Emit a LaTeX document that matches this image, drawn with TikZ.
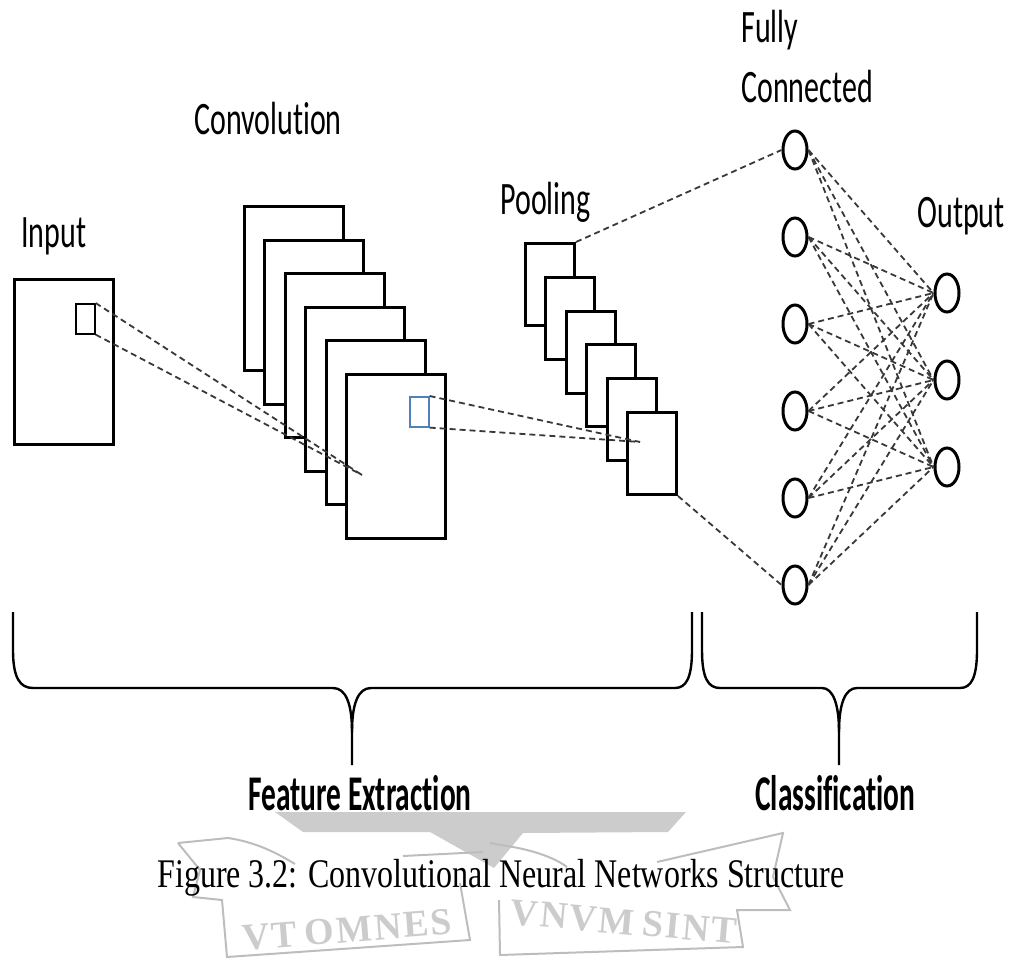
\documentclass[tikz,border=0pt]{standalone}
\usepackage{fontspec}
\usepackage{graphicx}
\setmainfont{Liberation Serif}
\newfontfamily\carlito[Ligatures=NoCommon]{Carlito}
\usetikzlibrary{shapes.geometric}
\newcommand{\stlbl}[1]{{\carlito\fontsize{15}{19.4}\selectfont\scalebox{1}[1.55]{\begin{tabular}[b]{@{}l@{}}#1\end{tabular}}}}
\newcommand{\stbold}[1]{{\carlito\bfseries\fontsize{14.7}{17}\selectfont\scalebox{1}[1.7]{#1}}}
\definecolor{wmgray}{gray}{0.80}
\definecolor{wmline}{gray}{0.74}
\definecolor{boxblue}{RGB}{79,129,189}
\tikzset{
  fmap/.style={draw=black, line width=1.5pt, fill=white, anchor=north west, inner sep=0pt},
  win/.style={line width=0.8pt, anchor=north west, inner sep=0pt, minimum width=9.5pt, minimum height=15pt},
  neuron/.style={draw=black, line width=1.5pt, ellipse, fill=white, minimum width=12pt, minimum height=19pt, inner sep=0pt},
  conn/.style={draw=black!78, line width=0.9pt, dash pattern=on 3pt off 2pt},
  lbl/.style={inner sep=0pt, anchor=base west},
  brace/.style={draw=black, line width=1.2pt},
  wm/.style={draw=wmline, line width=1pt},
  wmtext/.style={text=wmgray, inner sep=0pt, font=\fontsize{19}{22}\selectfont\bfseries},
}
\begin{document}
\begin{tikzpicture}[x=0.5pt, y=-0.5pt]
\useasboundingbox (0,0) rectangle (1012,962);
% ---------- watermark ----------
\fill[wmgray] (275,812) -- (686,812) -- (668,832) -- (523,833) -- (494,868) -- (430,832) -- (303,832) -- cycle;
\draw[wm] (178,843) -- (228,838) .. controls (255,842) and (275,852) .. (295,864);
\draw[wm] (178,843) -- (200,870) -- (193,897) -- (222,900) -- (227,957) -- (470,940) -- (460,883);
\draw[wm] (403,856) -- (483,852);
\draw[wm] (490,843) -- (513,847) .. controls (535,851) and (555,858) .. (567,867);
\draw[wm] (499,900) -- (500,955) -- (743,947) -- (737,910) -- (790,910) -- (773,877) -- (783,833) -- (657,862);
\node[wmtext, rotate=4.5] (wm1) at (347,930) {V\kern1ptT\kern4pt O\kern1ptM\kern1ptN\kern1ptE\kern1ptS};
\node[wmtext, rotate=-5] (wm2) at (624,922) {V\kern1ptN\kern1ptV\kern1ptM\kern4pt S\kern1ptI\kern1ptN\kern1ptT};
% ---------- input ----------
\node[fmap, minimum width=49.5pt, minimum height=82.5pt] (in) at (13,278) {};
\node[win, draw=black] (w1) at (75,303) {};
% ---------- convolution ----------
\foreach \i in {1,...,6}
  \node[fmap, minimum width=49.5pt, minimum height=82pt] (c\i) at ({243+20.4*(\i-1)},{205+33.6*(\i-1)}) {};
\node[win, draw=boxblue] (w2) at (409,396) {};
% ---------- pooling ----------
\foreach \i in {1,...,6}
  \node[fmap, minimum width=24.5pt, minimum height=41pt] (p\i) at ({524+20.4*(\i-1)},{242+33.8*(\i-1)}) {};
% ---------- neurons ----------
\foreach \i/\y in {1/150,2/237,3/324,4/411,5/498,6/585}
  \node[neuron] (f\i) at (795,\y) {};
\foreach \i/\y in {1/293,2/380,3/467}
  \node[neuron] (o\i) at (947,\y) {};
% ---------- connectors ----------
\coordinate (cend) at (362,475);
\coordinate (pend) at (640,442);
\draw[conn] (w1.north east) -- (cend);
\draw[conn] (w1.south east) -- (cend);
\draw[conn] (w2.north east) -- (pend);
\draw[conn] (w2.south east) -- (pend);
\draw[conn] (p1.north east) -- (f1.west);
\draw[conn] (p6.south east) -- (f6.west);
\foreach \i in {1,...,6}
  \foreach \j in {1,2,3}
    \draw[conn] (f\i.east) -- (o\j.west);
% ---------- labels ----------
\node[lbl] (linput) at (21,248) {\stlbl{Input}};
\node[lbl] (lconv) at (194,135) {\stlbl{Convolution}};
\node[lbl] (lpool) at (500,215) {\stlbl{Pooling}};
\node[lbl] (lfc) at (741,103) {\stlbl{Fully\\Connected}};
\node[lbl] (lout) at (917,228) {\stlbl{Output}};
% ---------- braces ----------
\draw[brace] (13,612) -- (13,650) .. controls (13,678) and (20,688) .. (33,688) -- (333,688)
  .. controls (346,688) and (352,704) .. (352,732) -- (352,765);
\draw[brace] (352,732) .. controls (352,704) and (358,688) .. (371,688) -- (675,688)
  .. controls (686,688) and (692,678) .. (692,650) -- (692,612);
\draw[brace] (702,612) -- (702,650) .. controls (702,678) and (708,688) .. (720,688) -- (822,688)
  .. controls (833,688) and (839,704) .. (839,732) -- (839,765);
\draw[brace] (839,732) .. controls (839,704) and (845,688) .. (857,688) -- (960,688)
  .. controls (971,688) and (977,678) .. (977,650) -- (977,612);
\node[lbl] (lfe) at (248,810) {\stbold{Feature Extraction}};
\node[lbl] (lcl) at (755,810) {\stbold{Classification}};
% ---------- caption ----------
\node[lbl] (cap) at (157,887) {\fontsize{16}{19}\selectfont\scalebox{1}[1.27]{Figure 3.2: Convolutional Neural Networks Structure}};
\end{tikzpicture}
\end{document}
